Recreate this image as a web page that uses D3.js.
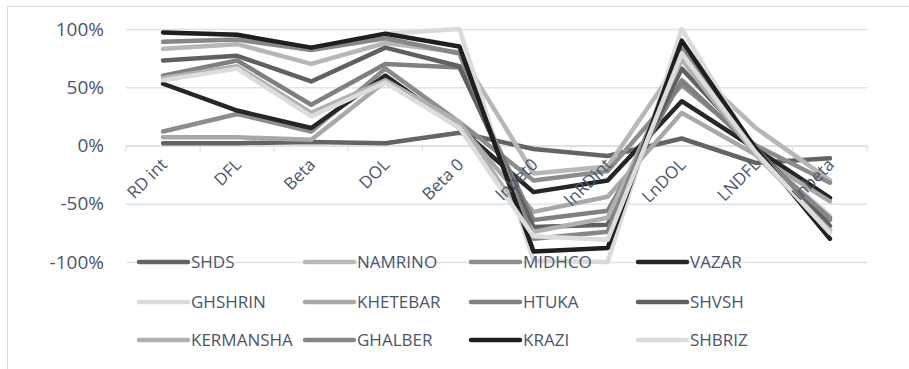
<!DOCTYPE html>
<html>
<head>
<meta charset="utf-8">
<script src="https://cdn.jsdelivr.net/npm/d3@7"></script>
<style>
  body { margin: 0; background: #fff; }
  text { font-family: "Open Sans", sans-serif; }
</style>
</head>
<body>
<svg id="chart" width="909" height="369"></svg>
<script>
// Categories along the x axis
const categories = ["RD int", "DFL", "Beta", "DOL", "Beta 0", "lnbet0", "lnRDint", "LnDOL", "LNDFL", "lnbeta"];

// Y axis tick values (percent)
const yTicks = [-100, -50, 0, 50, 100];

// Series values, in percent, one per category
const SHDS      = [2, 2, 3, 2, 11, -3, -9, 6, -15, -11];
const NAMRINO   = [83, 87, 70, 88, 80, -24, -18, 75, 15, -30];
const MIDHCO    = [12, 27, 12, 66, 20, -30, -22, 52, 0, -32];
const VAZAR     = [53, 30, 15, 60, 15, -40, -30, 38, -3, -45];
const GHSHRIN   = [97, 95, 84, 96, 100, -99, -100, 100, -5, -60];
const KHETEBAR  = [7, 7, 5, 55, 18, -57, -44, 28, -8, -48];
const HTUKA     = [60, 73, 35, 70, 67, -64, -56, 56, -4, -64];
const SHVSH     = [73, 77, 55, 84, 68, -70, -68, 66, -2, -69];
const KERMANSHA = [58, 68, 28, 56, 20, -74, -62, 74, -8, -73];
const GHALBER   = [89, 91, 82, 92, 79, -80, -74, 83, -6, -62];
const KRAZI     = [97, 95, 84, 96, 85, -91, -88, 90, -3, -80];
const SHBRIZ    = [56, 66, 25, 54, 15, -78, -81, 79, -6, -75];

const seriesNames  = ["SHDS", "NAMRINO", "MIDHCO", "VAZAR", "GHSHRIN", "KHETEBAR", "HTUKA", "SHVSH", "KERMANSHA", "GHALBER", "KRAZI", "SHBRIZ"];
const seriesValues = [SHDS, NAMRINO, MIDHCO, VAZAR, GHSHRIN, KHETEBAR, HTUKA, SHVSH, KERMANSHA, GHALBER, KRAZI, SHBRIZ];
const seriesColors = ["#646464", "#b7b7b7", "#8c8c8c", "#262626", "#dadada", "#a8a8a8", "#808080", "#606060", "#b0b0b0", "#878787", "#1f1f1f", "#dcdcdc"];

const series = seriesNames.map((name, i) => ({
  name,
  color: seriesColors[i],
  values: categories.map((c, j) => ({ cat: c, v: seriesValues[i][j] }))
}));

const svg = d3.select("#chart");
const W = 909, H = 369;
const plot = { left: 126, right: 867, top: 29, bottom: 262 };

// Chart area outline
svg.append("rect")
  .attr("x", 7.5).attr("y", 6.5)
  .attr("width", W + 20).attr("height", H + 20)
  .attr("fill", "#fff").attr("stroke", "#d9d9d9").attr("stroke-width", 1);

const x = d3.scaleBand().domain(categories).range([plot.left, plot.right]).padding(0);
const y = d3.scaleLinear().domain([-100, 100]).range([plot.bottom, plot.top]);
const cx = c => x(c) + x.bandwidth() / 2;

const textColor = "#4a566b";
const gridColor = "#dde1e8";

// Horizontal gridlines
const grid = svg.append("g")
  .attr("transform", `translate(${plot.left},0)`)
  .call(d3.axisLeft(y).tickValues(yTicks).tickSize(-(plot.right - plot.left)).tickFormat(""));
grid.select(".domain").remove();
grid.selectAll(".tick line").attr("stroke", gridColor).attr("stroke-width", 1.3);

// Y axis labels
const yAxis = svg.append("g")
  .attr("transform", `translate(${plot.left - 22},0)`)
  .call(d3.axisLeft(y).tickValues(yTicks).tickSize(0).tickFormat(d => d + "%"));
yAxis.select(".domain").remove();
yAxis.selectAll(".tick text")
  .attr("x", 0)
  .attr("fill", textColor)
  .style("font-size", "19px")
  .style("font-family", "'Open Sans', sans-serif");

// Category axis at zero, with tick marks between categories
const xAxis = svg.append("g")
  .attr("transform", `translate(0,${y(0)})`)
  .call(d3.axisBottom(x).tickSize(0).tickFormat(""));
xAxis.select(".domain").attr("stroke", gridColor).attr("stroke-width", 1.3);
const boundaries = categories.map(c => x(c)).concat([plot.right]);
xAxis.selectAll(".bound")
  .data(boundaries)
  .join("line")
  .attr("class", "bound")
  .attr("x1", d => d).attr("x2", d => d)
  .attr("y1", 0).attr("y2", 6)
  .attr("stroke", gridColor).attr("stroke-width", 1.3);

// Series lines (first series drawn first, later ones on top)
const line = d3.line()
  .x(d => cx(d.cat))
  .y(d => y(d.v));

svg.append("g")
  .selectAll("path")
  .data(series)
  .join("path")
  .attr("d", d => line(d.values))
  .attr("fill", "none")
  .attr("stroke", d => d.color)
  .attr("stroke-width", 4.5)
  .attr("stroke-linejoin", "round")
  .attr("stroke-linecap", "round");

// Rotated category labels
svg.append("g")
  .selectAll("text")
  .data(categories)
  .join("text")
  .attr("transform", c => `translate(${cx(c) + 1},${y(0) + 16}) rotate(-45)`)
  .attr("text-anchor", "end")
  .attr("dy", "0.35em")
  .attr("fill", textColor)
  .style("font-size", "17px")
  .text(c => c);

// Legend: 4 columns x 3 rows
const legendCols = [137, 303, 469, 636];
const legendRows = [262, 302, 340];
const legend = svg.append("g");
series.forEach((s, i) => {
  const lx = legendCols[i % 4];
  const ly = legendRows[Math.floor(i / 4)];
  const g = legend.append("g").attr("transform", `translate(${lx},${ly})`);
  g.append("line")
    .attr("x1", 2).attr("x2", 51).attr("y1", 0).attr("y2", 0)
    .attr("stroke", s.color).attr("stroke-width", 4.5).attr("stroke-linecap", "round");
  g.append("text")
    .attr("x", 54).attr("y", 0).attr("dy", "0.35em")
    .attr("fill", textColor)
    .style("font-size", "17px")
    .text(s.name);
});
</script>
</body>
</html>
